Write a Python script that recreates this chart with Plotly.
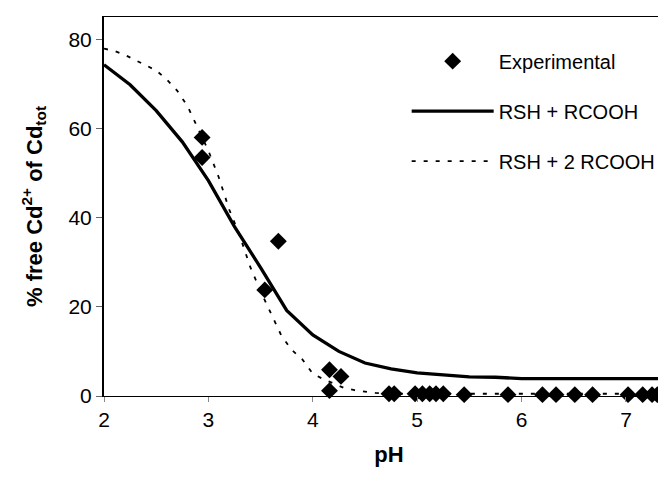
import plotly.graph_objects as go

# Experimental data (pH, % free Cd2+)
exp_ph = [2.94, 2.94, 3.54, 3.67, 4.16, 4.27, 4.16, 4.73, 4.78, 4.98, 5.05, 5.12, 5.18, 5.25,
          5.45, 5.87, 6.2, 6.33, 6.51, 6.68, 7.02, 7.16, 7.25, 7.3]
exp_cd = [58.0, 53.5, 23.8, 34.7, 5.9, 4.4, 1.2, 0.5, 0.5, 0.5, 0.5, 0.5, 0.5, 0.5,
          0.3, 0.3, 0.3, 0.3, 0.3, 0.3, 0.3, 0.3, 0.3, 0.3]

# Model RSH + RCOOH
m1_ph = [2.0, 2.25, 2.5, 2.75, 3.0, 3.25, 3.5, 3.75, 4.0, 4.25, 4.5, 4.75, 5.0, 5.25, 5.5,
         5.75, 6.0, 6.5, 7.0, 7.5]
m1_cd = [74.3, 69.8, 64.0, 57.0, 48.3, 38.0, 28.8, 19.2, 13.7, 10.0, 7.4, 6.1, 5.2, 4.7, 4.3,
         4.2, 3.9, 3.9, 3.9, 3.9]

# Model RSH + 2 RCOOH
m2_ph = [2.0, 2.1, 2.2, 2.3, 2.4, 2.5, 2.6, 2.7, 2.8, 2.9, 3.0, 3.1, 3.2, 3.3, 3.4, 3.5, 3.6,
         3.7, 3.8, 3.9, 4.0, 4.1, 4.2, 4.3, 4.4, 4.5, 4.6, 4.8, 5.0, 5.5, 6.0, 6.5, 7.0, 7.5]
m2_cd = [77.9, 77.4, 76.5, 75.3, 74.2, 73.0, 71.0, 68.5, 65.0, 60.0, 55.0, 49.0, 41.8, 36.0,
         29.0, 23.5, 18.3, 13.5, 10.3, 8.2, 5.0, 3.8, 2.8, 1.8, 1.3, 1.0, 0.7, 0.5, 0.5, 0.5,
         0.5, 0.5, 0.5, 0.5]

x_ticks = [2, 3, 4, 5, 6, 7]
y_ticks = [0, 20, 40, 60, 80]

FONT = "Liberation Sans, Arial, sans-serif"

fig = go.Figure()
fig.add_trace(go.Scatter(x=exp_ph, y=exp_cd, mode="markers", name="Experimental",
                         legendgroup="a",
                         marker=dict(symbol="diamond", size=13, color="black",
                                     line=dict(width=0)),
                         cliponaxis=False))
fig.add_trace(go.Scatter(x=m1_ph, y=m1_cd, mode="lines", name="RSH + RCOOH",
                         legendgroup="b",
                         line=dict(color="black", width=3.3)))
fig.add_trace(go.Scatter(x=m2_ph, y=m2_cd, mode="lines", name="RSH + 2 RCOOH",
                         legendgroup="c",
                         line=dict(color="black", width=1.8, dash="4px,8px")))

fig.update_layout(
    width=666, height=477,
    margin=dict(l=96, r=0, t=9, b=89),
    paper_bgcolor="white", plot_bgcolor="white",
    font=dict(family=FONT, size=21, color="black"),
    showlegend=True,
    legend=dict(x=0.531, y=0.935, xanchor="left", yanchor="top",
                bgcolor="rgba(0,0,0,0)", font=dict(size=20),
                itemwidth=82, tracegroupgap=21, traceorder="grouped"),
    xaxis=dict(range=[2, 7.46], tickvals=x_ticks, showgrid=False, zeroline=False,
               showline=True, linecolor="black", linewidth=1.2, mirror=True,
               ticks="outside", ticklen=5, tickcolor="#888", tickwidth=1,
               tickfont=dict(size=21),
               title=dict(text="<b>pH</b>", font=dict(size=22), standoff=16)),
    yaxis=dict(range=[0, 85], tickvals=y_ticks, showgrid=False, zeroline=False,
               showline=True, linecolor="black", linewidth=2,
               ticks="outside", ticklen=6, tickcolor="#666", tickwidth=1,
               tickfont=dict(size=21),
               title=dict(text="<b>% free Cd<sup>2+</sup> of Cd<sub>tot</sub></b>",
                          font=dict(size=22), standoff=20)),
)

fig.write_html("out.html")
